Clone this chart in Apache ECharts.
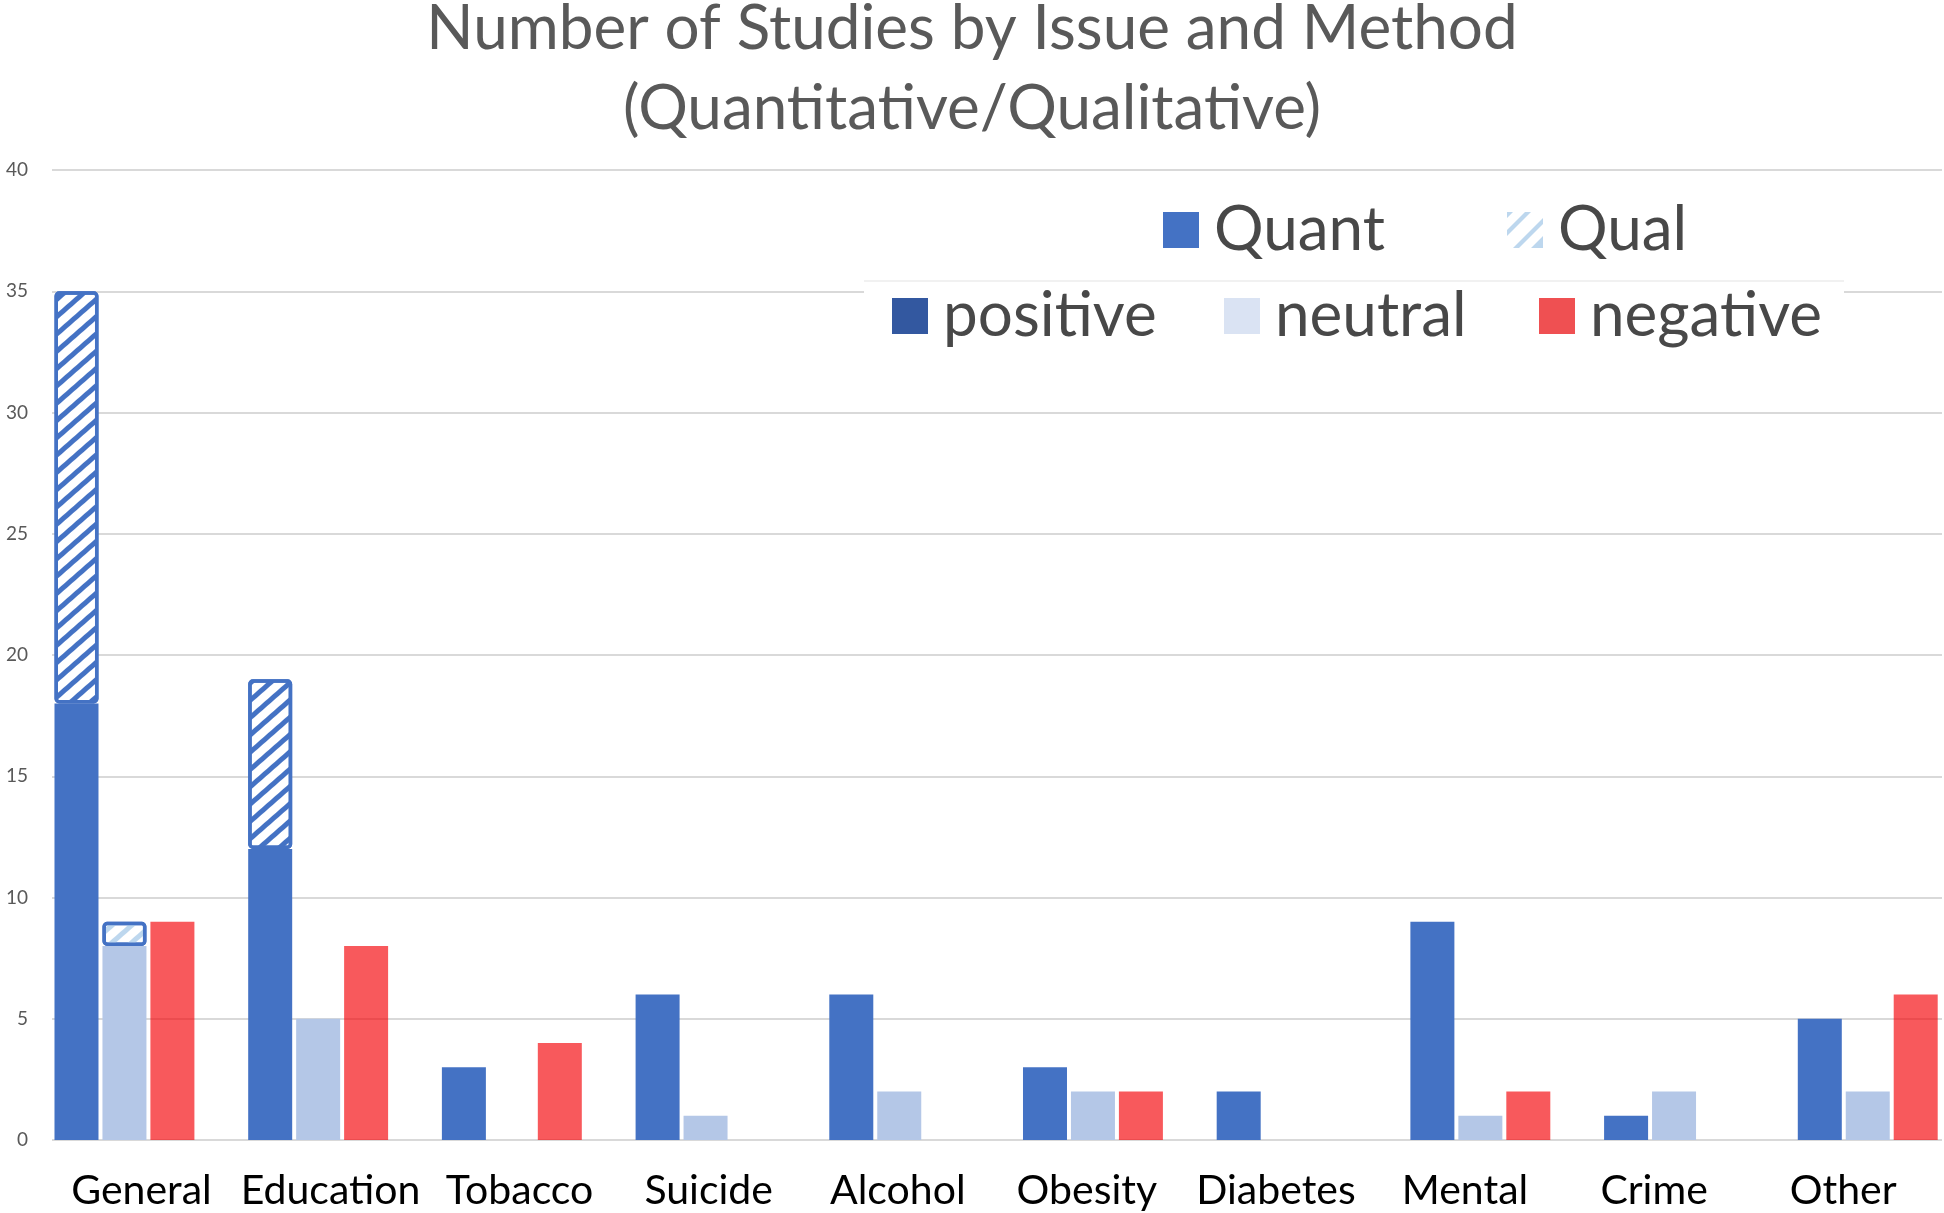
<!DOCTYPE html>
<html>
<head>
<meta charset="utf-8">
<script src="https://cdn.jsdelivr.net/npm/echarts@6/dist/echarts.min.js"></script>
<style>
html,body{margin:0;padding:0;background:#fff;}
#chart{width:1944px;height:1213px;}
</style>
</head>
<body>
<div id="chart"></div>
<script>
const categories = ['General','Education','Tobacco','Suicide','Alcohol','Obesity','Diabetes','Mental','Crime','Other'];
const positiveQuant = [18, 12, 3, 6, 6, 3, 2, 9, 1, 5];
const positiveQual  = [17, 7, '-', '-', '-', '-', '-', '-', '-', '-'];
const neutralQuant  = [8, 5, '-', 1, 2, 2, '-', 1, 2, 2];
const neutralQual   = [1, '-', '-', '-', '-', '-', '-', '-', '-', '-'];
const negativeVals  = [9, 8, 4, '-', '-', 2, '-', 2, '-', 6];
const yMin = 0, yMax = 40, yStep = 5;
const titleLines = ['Number of Studies by Issue and Method', '(Quantitative/Qualitative)'];

const FONT = 'Lato, "Open Sans", sans-serif';
const BLUE = '#4472C4';
const LIGHT = '#B4C7E7';
const RED = 'rgba(244,0,4,0.65)';

const hatch = (c) => ({
  symbol: 'rect', symbolSize: 1, color: c,
  dashArrayX: [1, 0], dashArrayY: [4.5, 8], rotation: -0.72
});

const qualIcon = 'path://M0,0 L2,0 L0,2 Z M0,6 L6,0 L8,0 L0,8 Z M2,12 L12,2 L12,4 L4,12 Z M8,12 L12,8 L12,12 Z';

const chart = echarts.init(document.getElementById('chart'));

function legendItem(name, left, top, icon) {
  return {
    data: [name], left: left, top: top, padding: 0,
    icon: icon || 'rect', itemWidth: 36, itemHeight: 36,
    selectedMode: false,
    textStyle: { fontFamily: FONT, fontSize: 62, lineHeight: 60, color: '#484848', padding: [0, 0, 0, 10] }
  };
}

function titleLine(text, top) {
  return {
    text: text, left: 'center', top: top, padding: 0,
    textStyle: { fontFamily: FONT, fontSize: 62, lineHeight: 80, fontWeight: 'normal', color: '#595959' }
  };
}

const option = {
  backgroundColor: '#ffffff',
  animation: false,
  title: [
    titleLine(titleLines[0], -11),
    titleLine(titleLines[1], 69)
  ],
  legend: [
    legendItem('Quant', 1163, 199),
    legendItem('Qual', 1507, 199, qualIcon),
    legendItem('positive', 892, 285),
    legendItem('neutral', 1224, 285),
    legendItem('negative', 1539, 285)
  ],
  graphic: [
    { type: 'rect', z: 3, shape: { x: 864, y: 282, width: 980, height: 80 }, style: { fill: '#ffffff' } },
    { type: 'line', z: 3, shape: { x1: 864, y1: 281, x2: 1844, y2: 281 }, style: { stroke: '#ececec', lineWidth: 1.5 } }
  ],
  grid: [
    { left: 27.6, width: 1937, top: 170, bottom: 73, outerBoundsMode: 'none', containLabel: false },
    { left: 52, right: 2, top: 170, bottom: 73, outerBoundsMode: 'none', containLabel: false },
    { left: 46.9, width: 1890.8, top: 170, bottom: 73, outerBoundsMode: 'none', containLabel: false }
  ],
  xAxis: [
    { type: 'category', gridIndex: 0, data: categories, show: false },
    { type: 'category', gridIndex: 1, data: categories, show: false },
    { type: 'category', gridIndex: 2, data: categories,
      axisLine: { show: false },
      axisTick: { show: false },
      axisLabel: { fontFamily: FONT, fontSize: 41, color: '#000000', margin: 30, interval: 0 } }
  ],
  yAxis: [
    { type: 'value', gridIndex: 0, min: yMin, max: yMax, interval: yStep, show: false, splitLine: { show: false } },
    { type: 'value', gridIndex: 1, min: yMin, max: yMax, interval: yStep,
      axisLine: { show: false }, axisTick: { show: false },
      axisLabel: { fontFamily: FONT, fontSize: 19, color: '#595959', margin: 24 },
      splitLine: { lineStyle: { color: '#d9d9d9', width: 2 } } },
    { type: 'value', gridIndex: 2, min: yMin, max: yMax, interval: yStep, show: false, splitLine: { show: false } }
  ],
  series: [
    { name: 'posQuant', type: 'bar', stack: 'pos', xAxisIndex: 0, yAxisIndex: 0, barWidth: 44, barGap: '9%',
      itemStyle: { color: BLUE }, data: positiveQuant },
    { name: 'posQual', type: 'bar', stack: 'pos', xAxisIndex: 0, yAxisIndex: 0, barWidth: 44, barGap: '9%',
      itemStyle: { color: '#ffffff', borderColor: BLUE, borderWidth: 3.5, borderRadius: 3, decal: hatch(BLUE) }, data: positiveQual },
    { name: 'neuQuant', type: 'bar', stack: 'neu', xAxisIndex: 0, yAxisIndex: 0, barWidth: 44, barGap: '9%',
      itemStyle: { color: LIGHT }, data: neutralQuant },
    { name: 'neuQual', type: 'bar', stack: 'neu', xAxisIndex: 0, yAxisIndex: 0, barWidth: 44, barGap: '9%',
      itemStyle: { color: '#ffffff', borderColor: BLUE, borderWidth: 3.5, borderRadius: 3, decal: hatch('#BDD7EE') }, data: neutralQual },
    { name: 'neg', type: 'bar', stack: 'neg', xAxisIndex: 0, yAxisIndex: 0, barWidth: 44, barGap: '9%',
      itemStyle: { color: RED }, data: negativeVals },
    { name: 'Quant', type: 'bar', xAxisIndex: 1, yAxisIndex: 1, data: [], itemStyle: { color: BLUE } },
    { name: 'Qual', type: 'bar', xAxisIndex: 1, yAxisIndex: 1, data: [], itemStyle: { color: '#BDD7EE' } },
    { name: 'positive', type: 'bar', xAxisIndex: 1, yAxisIndex: 1, data: [], itemStyle: { color: '#3358A0' } },
    { name: 'neutral', type: 'bar', xAxisIndex: 1, yAxisIndex: 1, data: [], itemStyle: { color: '#DAE3F3' } },
    { name: 'negative', type: 'bar', xAxisIndex: 1, yAxisIndex: 1, data: [], itemStyle: { color: '#EF5052' } }
  ]
};
chart.setOption(option);
</script>
</body>
</html>
